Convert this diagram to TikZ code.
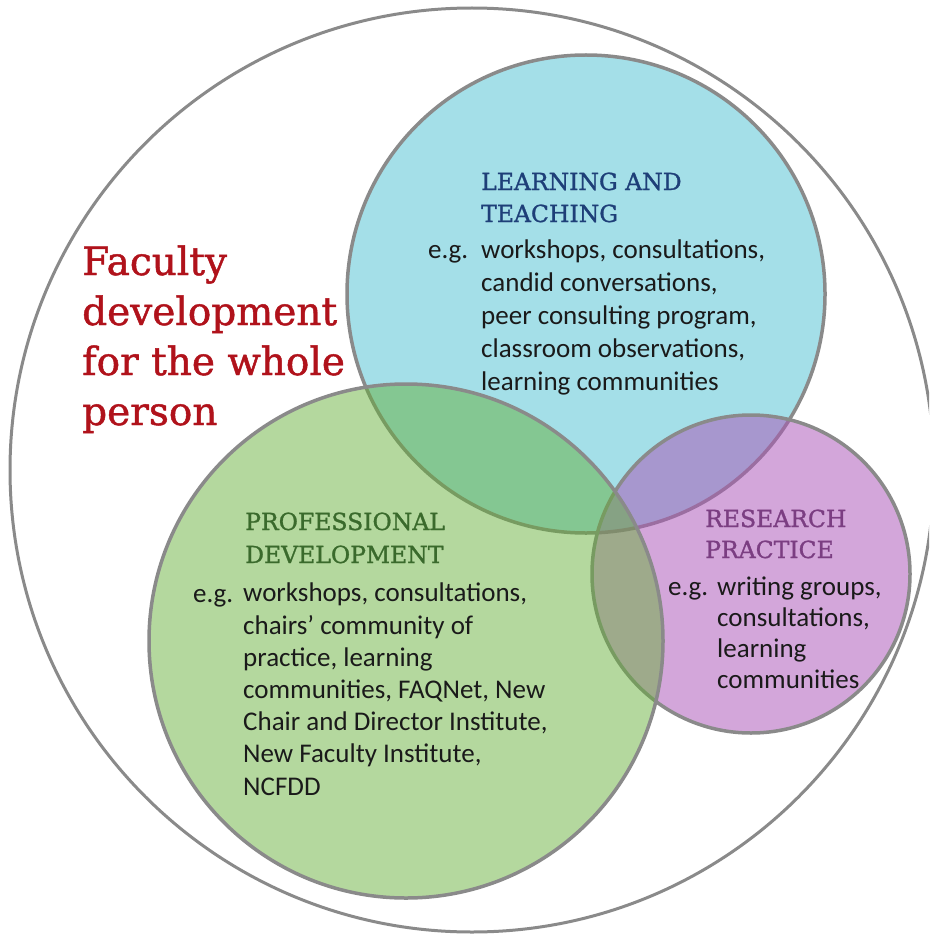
\documentclass[tikz,border=0pt]{standalone}
\usepackage{fontspec}
\setmainfont{Carlito}
\newfontfamily\slabfont[FakeBold=1.2]{DejaVu Serif}
\usetikzlibrary{positioning}

\definecolor{ringgray}{HTML}{8A8A8A}
\definecolor{learnblue}{HTML}{A4DFE8}
\definecolor{profgreen}{RGB}{99,174,53}
\definecolor{researchpurple}{RGB}{171,85,184}
\definecolor{learnnavy}{HTML}{1E3F78}
\definecolor{profdark}{HTML}{3A6A2C}
\definecolor{researchdark}{HTML}{7B3E82}
\definecolor{wholered}{HTML}{B0121B}
\definecolor{bodyblack}{HTML}{1A1A1A}

% base anchor of a multi-line node sits on its last line
\begin{document}
\begin{tikzpicture}[x=1pt, y=-1pt,
    ring/.style={draw=ringgray, line width=3.5pt},
    heading/.style={font=\slabfont\fontsize{23.5}{32}\selectfont, align=left, inner sep=0pt, anchor=base west},
    body/.style={font=\fontsize{27}{33}\selectfont, text=bodyblack, align=left, inner sep=0pt, anchor=base west},
    whole/.style={font=\slabfont\fontsize{39}{50}\selectfont, text=wholered, align=left, inner sep=0pt, anchor=base west}]

    \useasboundingbox (0,0) rectangle (929,936);
    \clip (0,0) rectangle (929,936);

    % circles: blue first, purple and green laid over it
    \draw [ring, line width=3pt] (472,470) circle [radius=462pt];
    \draw [ring, fill=learnblue] (586,294) circle [radius=239pt];
    \draw [ring, fill=researchpurple, fill opacity=0.52] (751,574) circle [radius=159pt];
    \draw [ring, fill=profgreen, fill opacity=0.48] (406,641) circle [radius=257pt];

    \node [whole] (wholeperson) at (82,425) {Faculty\\development\\for the whole\\person};

    \node [heading, text=learnnavy] (learnhead) at (481,222) {LEARNING AND\\TEACHING};
    \node [body] (learneg) at (428,258) {e.g.};
    \node [body] (learnlist) at (481,390) {workshops, consultations,\\candid conversations,\\peer consulting program,\\classroom observations,\\learning communities};

    \node [heading, text=profdark, font=\slabfont\fontsize{23.5}{33}\selectfont] (profhead) at (245,563) {PROFESSIONAL\\DEVELOPMENT};
    \node [body] (profeg) at (193,602) {e.g.};
    \node [body, font=\fontsize{27}{32.2}\selectfont] (proflist) at (243,795) {workshops, consultations,\\chairs' community of\\practice, learning\\communities, FAQNet, New\\Chair and Director Institute,\\New Faculty Institute,\\NCFDD};

    \node [heading, text=researchdark, font=\slabfont\fontsize{23.5}{31}\selectfont] (reshead) at (705,558) {RESEARCH\\PRACTICE};
    \node [body] (reseg) at (668,595) {e.g.};
    \node [body, font=\fontsize{27}{31}\selectfont] (reslist) at (717,688) {writing groups,\\consultations,\\learning\\communities};
\end{tikzpicture}
\end{document}
